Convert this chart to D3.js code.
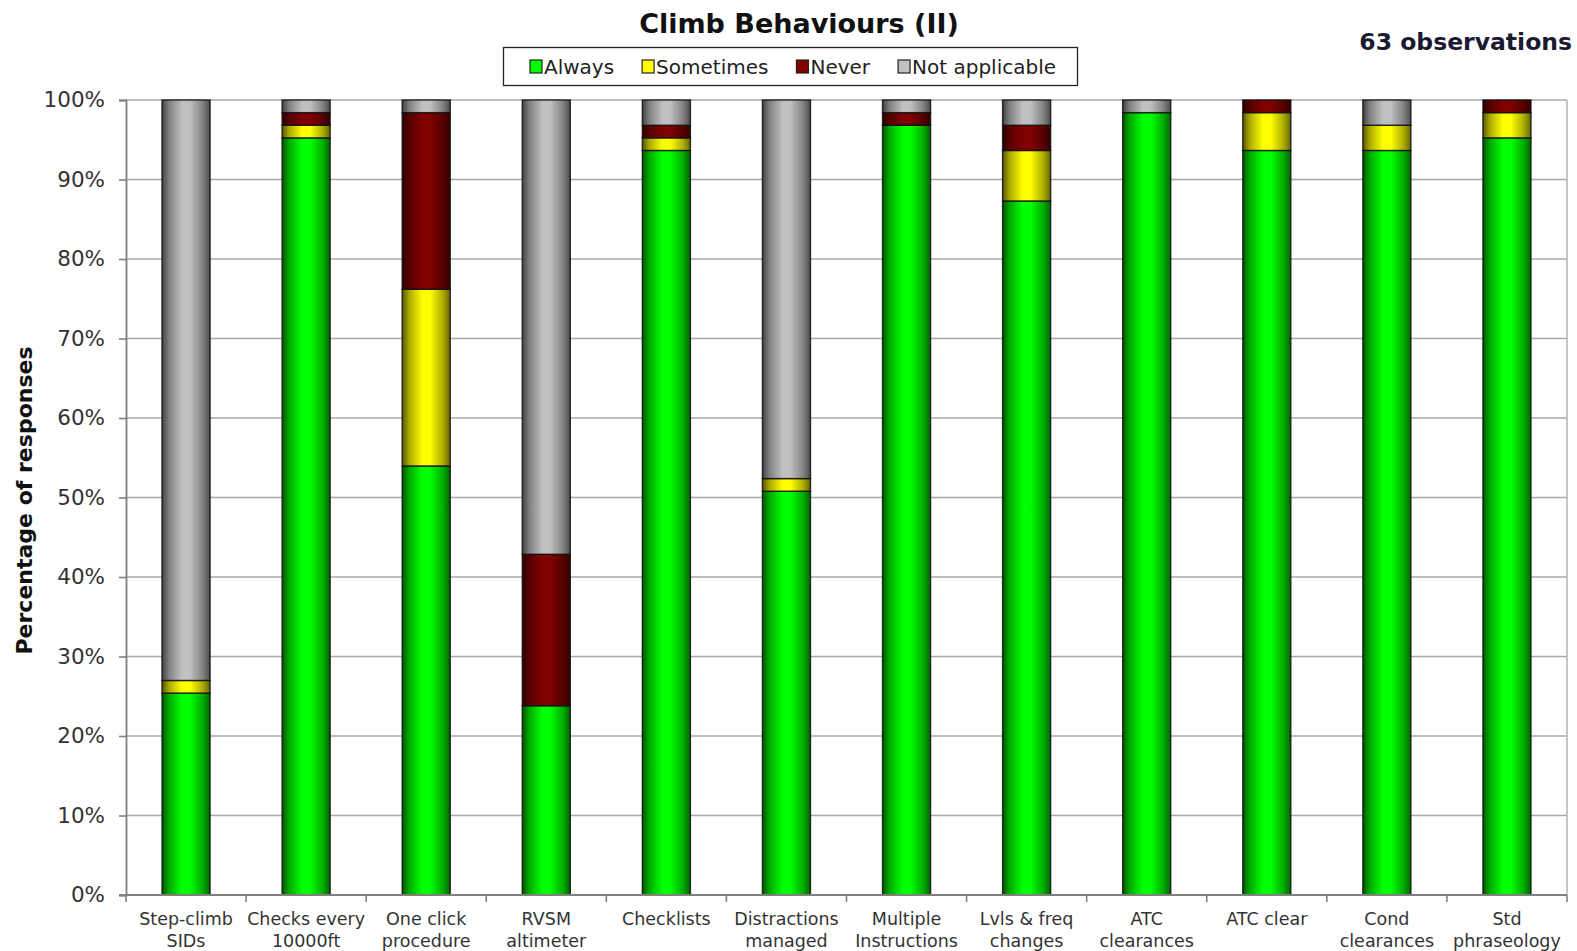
<!DOCTYPE html>
<html>
<head>
<meta charset="utf-8">
<title>Climb Behaviours (II)</title>
<script src="https://cdn.jsdelivr.net/npm/d3@7"></script>
<style>
  html, body { margin: 0; padding: 0; background: #ffffff; }
  svg { display: block; }
  text { font-family: "DejaVu Sans", Verdana, sans-serif; }
</style>
</head>
<body>
<svg id="chart" width="1577" height="951"></svg>
<script>
// Survey items (two-line axis labels)
const categories = [
  "Step-climb|SIDs", "Checks every|10000ft", "One click|procedure", "RVSM|altimeter",
  "Checklists", "Distractions|managed", "Multiple|Instructions", "Lvls & freq|changes",
  "ATC|clearances", "ATC clear", "Cond|clearances", "Std|phraseology"
];

// Response counts per item (63 observations each)
const always        = [16, 60, 34, 15, 59, 32, 61, 55, 62, 59, 59, 60];
const sometimes     = [ 1,  1, 14,  0,  1,  1,  0,  4,  0,  3,  2,  2];
const never         = [ 0,  1, 14, 12,  1,  0,  1,  2,  0,  1,  0,  1];
const notApplicable = [46,  1,  1, 36,  2, 30,  1,  2,  1,  0,  2,  0];

const seriesNames  = ["Always", "Sometimes", "Never", "Not applicable"];
const seriesColors = ["#00ff00", "#ffff00", "#800000", "#c0c0c0"];
const yTicks = [0, 0.1, 0.2, 0.3, 0.4, 0.5, 0.6, 0.7, 0.8, 0.9, 1.0];

const observations = 63;

// Build rows for the stack layout
const rows = categories.map((c, i) => ({
  category: c,
  "Always": always[i],
  "Sometimes": sometimes[i],
  "Never": never[i],
  "Not applicable": notApplicable[i]
}));

const svg = d3.select("#chart");
const plot = { left: 126, top: 100, right: 1567, bottom: 895 };

const x = d3.scaleBand()
  .domain(categories)
  .range([plot.left, plot.right])
  .paddingInner(0.6)
  .paddingOuter(0.3);

const y = d3.scaleLinear().domain([0, 1]).range([plot.bottom, plot.top]);

const stack = d3.stack().keys(seriesNames).offset(d3.stackOffsetExpand);
const stacked = stack(rows);

// Cylinder-like horizontal shading for each series
const defs = svg.append("defs");
seriesNames.forEach((name, i) => {
  const base = d3.color(seriesColors[i]);
  const g = defs.append("linearGradient")
    .attr("id", "grad" + i)
    .attr("x1", "0").attr("x2", "1").attr("y1", "0").attr("y2", "0");
  const stops = [
    [0.00, base.darker(3.0)],
    [0.15, base.darker(1.1)],
    [0.42, base],
    [0.58, base],
    [0.85, base.darker(1.1)],
    [1.00, base.darker(2.6)]
  ];
  stops.forEach(([o, c]) => g.append("stop").attr("offset", o).attr("stop-color", c.formatHex()));
});

// Horizontal gridlines
svg.append("g")
  .selectAll("line")
  .data(yTicks.slice(1))
  .join("line")
  .attr("x1", plot.left).attr("x2", plot.right)
  .attr("y1", d => y(d)).attr("y2", d => y(d))
  .attr("stroke", "#a8a8a8")
  .attr("stroke-width", 1.6);

// Right border of the plot area
svg.append("line")
  .attr("x1", plot.right).attr("x2", plot.right)
  .attr("y1", plot.top).attr("y2", plot.bottom)
  .attr("stroke", "#b8b8b8").attr("stroke-width", 1.6);

// Stacked bars
const layers = svg.append("g")
  .selectAll("g")
  .data(stacked)
  .join("g")
  .attr("fill", (d, i) => `url(#grad${i})`);

layers.selectAll("rect")
  .data(d => d.filter(s => s[1] - s[0] > 0))
  .join("rect")
  .attr("x", d => x(d.data.category))
  .attr("width", x.bandwidth())
  .attr("y", d => y(d[1]))
  .attr("height", d => y(d[0]) - y(d[1]))
  .attr("stroke", "#111")
  .attr("stroke-opacity", 0.85)
  .attr("stroke-width", 1.4);

// Y axis
const yAxis = d3.axisLeft(y)
  .tickValues(yTicks)
  .tickFormat(d3.format(".0%"))
  .tickSize(7)
  .tickPadding(14);

const yg = svg.append("g")
  .attr("transform", `translate(${plot.left},0)`)
  .call(yAxis);
yg.select(".domain").attr("stroke", "#808080").attr("stroke-width", 1.8);
yg.selectAll(".tick line").attr("stroke", "#808080").attr("stroke-width", 1.6);
yg.selectAll(".tick text")
  .attr("fill", "#333")
  .style("font-size", "21.5px")
  .style("font-family", "'DejaVu Sans', Verdana, sans-serif");

// X axis baseline with ticks at the band boundaries
const step = x.step();
const edgeOffset = (step - x.bandwidth()) / 2;
const boundaries = categories.map(c => x(c) - edgeOffset).concat([x(categories[categories.length - 1]) + x.bandwidth() + edgeOffset]);

const xg = svg.append("g");
xg.append("line")
  .attr("x1", plot.left - 7).attr("x2", plot.right)
  .attr("y1", plot.bottom).attr("y2", plot.bottom)
  .attr("stroke", "#808080").attr("stroke-width", 1.8);
xg.selectAll(".xtick")
  .data(boundaries)
  .join("line")
  .attr("class", "xtick")
  .attr("x1", d => d).attr("x2", d => d)
  .attr("y1", plot.bottom).attr("y2", plot.bottom + 7)
  .attr("stroke", "#808080").attr("stroke-width", 1.6);

const labels = xg.selectAll(".xlabel")
  .data(categories)
  .join("text")
  .attr("class", "xlabel")
  .attr("text-anchor", "middle")
  .attr("fill", "#333")
  .style("font-size", "17.5px");
labels.each(function(c) {
  const t = d3.select(this);
  const cx = x(c) + x.bandwidth() / 2;
  c.split("|").forEach((line, i) => {
    t.append("tspan")
      .attr("x", cx)
      .attr("y", 925 + i * 22)
      .text(line);
  });
});

// Y axis title
svg.append("text")
  .attr("transform", `translate(32,${(plot.top + plot.bottom) / 2 + 3}) rotate(-90)`)
  .attr("text-anchor", "middle")
  .attr("fill", "#111")
  .style("font-size", "22px")
  .style("font-weight", "bold")
  .text("Percentage of responses");

// Chart title
svg.append("text")
  .attr("x", 799)
  .attr("y", 33)
  .attr("text-anchor", "middle")
  .attr("fill", "#111")
  .style("font-size", "27px")
  .style("font-weight", "bold")
  .text("Climb Behaviours (II)");

// Observation count
svg.append("text")
  .attr("x", 1572)
  .attr("y", 50)
  .attr("text-anchor", "end")
  .attr("fill", "#1a1a33")
  .style("font-size", "23.5px")
  .style("font-weight", "bold")
  .text(`${observations} observations`);

// Legend
const legend = svg.append("g");
legend.append("rect")
  .attr("x", 503.5).attr("y", 47.5)
  .attr("width", 574).attr("height", 38)
  .attr("fill", "#fff")
  .attr("stroke", "#222").attr("stroke-width", 1.3);

let lx = 530;
seriesNames.forEach((name, i) => {
  legend.append("rect")
    .attr("x", lx).attr("y", 60)
    .attr("width", 12).attr("height", 13)
    .attr("fill", seriesColors[i])
    .attr("stroke", "#222").attr("stroke-width", 1.2);
  const t = legend.append("text")
    .attr("x", lx + 14)
    .attr("y", 74)
    .attr("fill", "#222")
    .style("font-size", "20px")
    .text(name);
  lx += 14 + t.node().getComputedTextLength() + 28;
});
</script>
</body>
</html>
